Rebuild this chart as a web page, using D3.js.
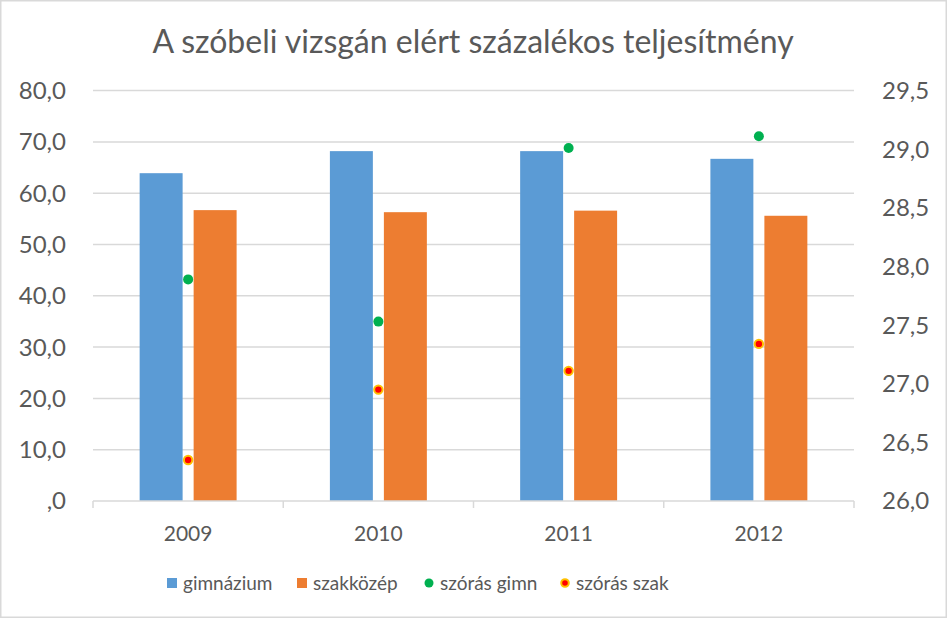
<!DOCTYPE html>
<html>
<head>
<meta charset="utf-8">
<script src="https://cdn.jsdelivr.net/npm/d3@7"></script>
<style>
  body { margin: 0; background: #fff; }
  text { font-family: Lato, "Open Sans", sans-serif; fill: #595959; }
</style>
</head>
<body>
<svg id="chart" width="947" height="618"></svg>
<script>
// data
var years = ["2009", "2010", "2011", "2012"]
var gimnazium = [63.9, 68.2, 68.2, 66.7]
var szakkozep = [56.7, 56.3, 56.6, 55.6]
var szorasGimn = [27.89, 27.53, 29.01, 29.11]
var szorasSzak = [26.35, 26.95, 27.11, 27.34]
var leftTicks = [0, 10, 20, 30, 40, 50, 60, 70, 80]
var rightTicks = [26, 26.5, 27, 27.5, 28, 28.5, 29, 29.5]

var gridColor = "#d9d9d9"
var blue = "#5b9bd5", orange = "#ed7d31", green = "#00b050"

var plotLeft = 93, plotRight = 854, plotTop = 90.6, plotBottom = 501

var svg = d3.select("#chart")

// outer border
svg.append("rect")
  .attr("x", 0.75).attr("y", 0.75)
  .attr("width", 945.5).attr("height", 616.5)
  .attr("fill", "none").attr("stroke", gridColor).attr("stroke-width", 1.5)

var x = d3.scaleBand().domain(years).range([plotLeft, plotRight])
var xs = d3.scaleBand().domain(["g", "s"]).range([0, x.bandwidth()])
  .paddingInner(0.204).paddingOuter(0.864)
var y = d3.scaleLinear().domain([0, 80]).range([plotBottom, plotTop])
var y2 = d3.scaleLinear().domain([26, 29.5]).range([plotBottom, plotTop])

function fmt(v) { return v === 0 ? ",0" : v.toFixed(1).replace(".", ",") }

// gridlines
svg.append("g").selectAll("line")
  .data(leftTicks.filter(d => d > 0))
  .join("line")
  .attr("x1", plotLeft).attr("x2", plotRight)
  .attr("y1", d => y(d)).attr("y2", d => y(d))
  .attr("stroke", gridColor).attr("stroke-width", 1.5)

// left axis labels
svg.append("g").selectAll("text")
  .data(leftTicks)
  .join("text")
  .attr("x", 66).attr("y", d => y(d))
  .attr("dy", "0.35em")
  .attr("text-anchor", "end")
  .attr("font-size", 24)
  .text(fmt)

// right axis labels
svg.append("g").selectAll("text")
  .data(rightTicks)
  .join("text")
  .attr("x", 882).attr("y", d => y2(d))
  .attr("dy", "0.35em")
  .attr("font-size", 24)
  .text(fmt)

// bars
var bars = svg.append("g")
bars.selectAll(".g")
  .data(gimnazium)
  .join("rect")
  .attr("class", "g")
  .attr("x", (d, i) => x(years[i]) + xs("g"))
  .attr("width", xs.bandwidth())
  .attr("y", d => y(d))
  .attr("height", d => y(0) - y(d))
  .attr("fill", blue)
bars.selectAll(".s")
  .data(szakkozep)
  .join("rect")
  .attr("class", "s")
  .attr("x", (d, i) => x(years[i]) + xs("s"))
  .attr("width", xs.bandwidth())
  .attr("y", d => y(d))
  .attr("height", d => y(0) - y(d))
  .attr("fill", orange)

// category axis
svg.append("line")
  .attr("x1", plotLeft).attr("x2", plotRight)
  .attr("y1", plotBottom).attr("y2", plotBottom)
  .attr("stroke", gridColor).attr("stroke-width", 1.5)
svg.append("g").selectAll("line")
  .data(years.map(d => x(d)).concat([plotRight]))
  .join("line")
  .attr("x1", d => d).attr("x2", d => d)
  .attr("y1", plotBottom).attr("y2", plotBottom + 7)
  .attr("stroke", gridColor).attr("stroke-width", 1.5)
svg.append("g").selectAll("text")
  .data(years)
  .join("text")
  .attr("x", d => x(d) + x.bandwidth() / 2)
  .attr("y", 534)
  .attr("dy", "0.35em")
  .attr("text-anchor", "middle")
  .attr("font-size", 21)
  .text(d => d)

// scatter points on the secondary axis
svg.append("g").selectAll("circle")
  .data(szorasGimn)
  .join("circle")
  .attr("cx", (d, i) => x(years[i]) + x.bandwidth() / 2)
  .attr("cy", d => y2(d))
  .attr("r", 5)
  .attr("fill", green)
svg.append("g").selectAll("circle")
  .data(szorasSzak)
  .join("circle")
  .attr("cx", (d, i) => x(years[i]) + x.bandwidth() / 2)
  .attr("cy", d => y2(d))
  .attr("r", 4.2)
  .attr("fill", "#ff0000")
  .attr("stroke", "#ffc000").attr("stroke-width", 2)

// title
svg.append("text")
  .attr("x", 473).attr("y", 42)
  .attr("dy", "0.35em")
  .attr("text-anchor", "middle")
  .attr("font-size", 32)
  .text("A szóbeli vizsgán elért százalékos teljesítmény")

// legend
var ly = 583
var legend = [
  {name: "gimnázium", x: 167, kind: "rect", color: blue},
  {name: "szakközép", x: 297, kind: "rect", color: orange},
  {name: "szórás gimn", x: 424, kind: "dot", color: green},
  {name: "szórás szak", x: 560, kind: "ring", color: "#ff0000"}
]
var lg = svg.append("g").selectAll("g").data(legend).join("g")
lg.filter(d => d.kind == "rect").append("rect")
  .attr("x", d => d.x).attr("y", ly - 5)
  .attr("width", 10).attr("height", 10)
  .attr("fill", d => d.color)
lg.filter(d => d.kind != "rect").append("circle")
  .attr("cx", d => d.x + 5).attr("cy", ly)
  .attr("r", d => d.kind == "dot" ? 4.5 : 3.8)
  .attr("fill", d => d.color)
  .attr("stroke", d => d.kind == "ring" ? "#ffc000" : null)
  .attr("stroke-width", 2)
lg.append("text")
  .attr("x", d => d.x + 16).attr("y", ly)
  .attr("dy", "0.35em")
  .attr("font-size", 19)
  .text(d => d.name)
</script>
</body>
</html>
